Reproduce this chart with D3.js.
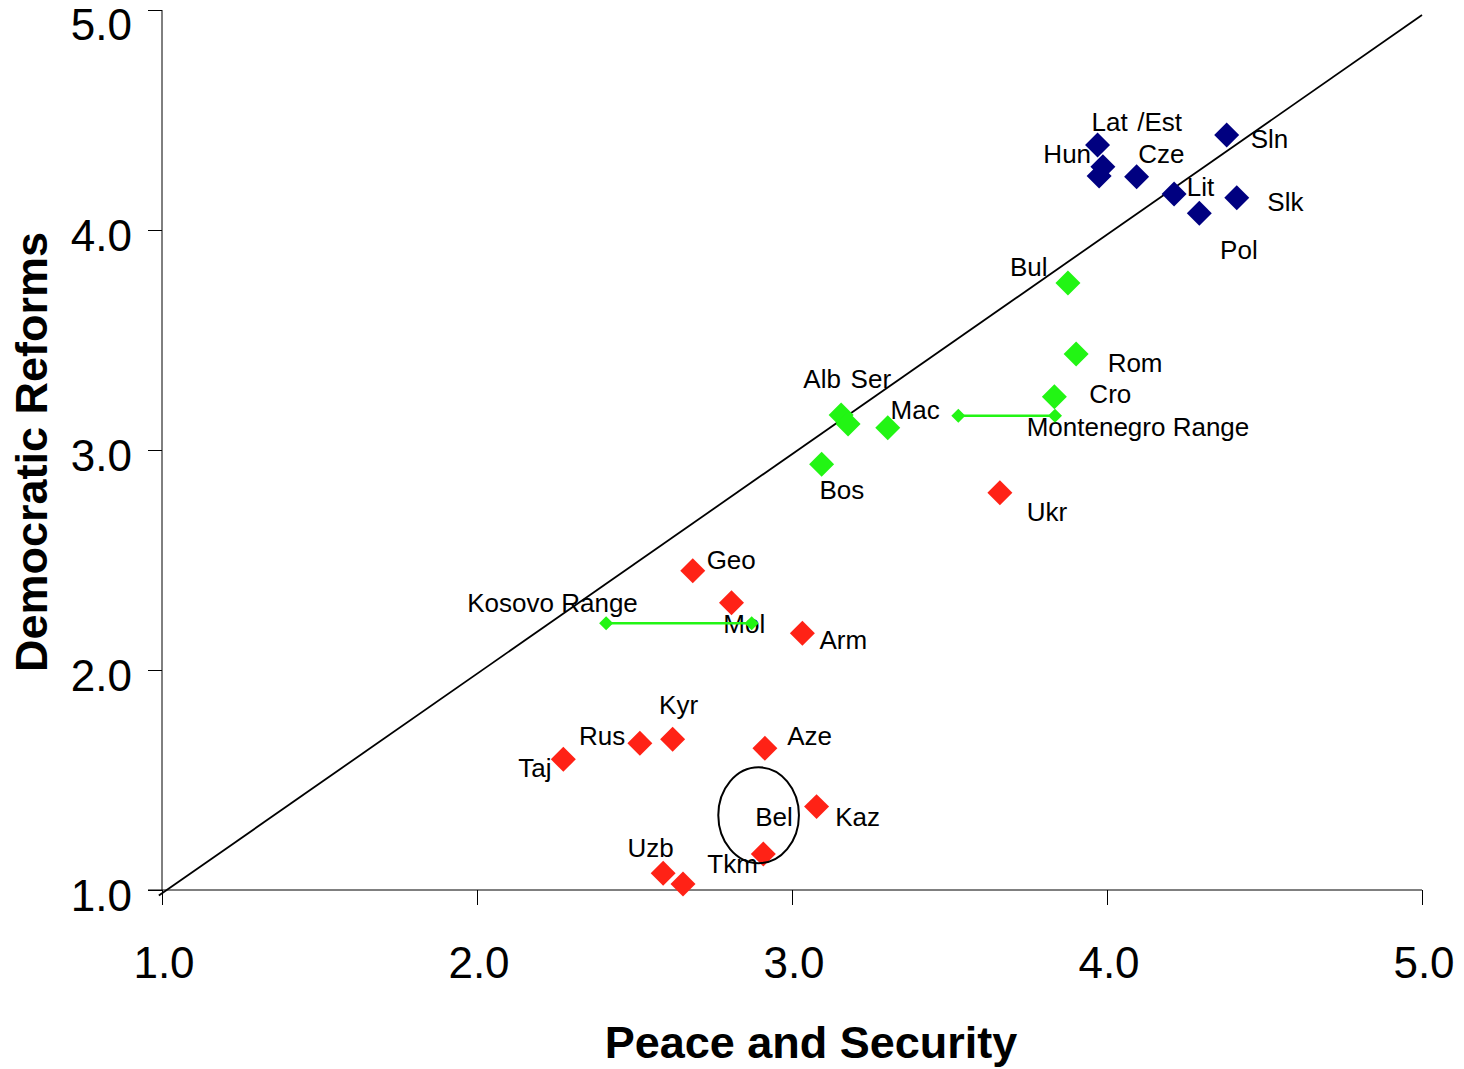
<!DOCTYPE html>
<html>
<head>
<meta charset="utf-8">
<script src="https://cdn.jsdelivr.net/npm/d3@7"></script>
<style>
  html, body { margin: 0; padding: 0; background: #fff; }
  svg { display: block; }
  text { font-family: "Liberation Sans", Arial, sans-serif; fill: #000; }
</style>
</head>
<body>
<svg id="chart" width="1464" height="1069"></svg>
<script>
// ---- data ----
const tickValues = [1, 2, 3, 4, 5];
const tickLabels = ["1.0", "2.0", "3.0", "4.0", "5.0"];

const blueNames = ["Lat", "Est", "Hun", "Cze", "Lit", "Pol", "Sln", "Slk"];
const blueX = [3.970, 3.987, 3.975, 4.094, 4.213, 4.293, 4.380, 4.412];
const blueY = [4.386, 4.288, 4.245, 4.242, 4.164, 4.076, 4.432, 4.147];

const greenNames = ["Bul", "Rom", "Cro", "Alb", "Ser", "Mac", "Bos"];
const greenX = [3.876, 3.902, 3.833, 3.156, 3.178, 3.304, 3.094];
const greenY = [3.759, 3.436, 3.242, 3.159, 3.118, 3.101, 2.935];

const redNames = ["Ukr", "Geo", "Mol", "Arm", "Taj", "Rus", "Kyr", "Aze", "Kaz", "Bel", "Uzb", "Tkm"];
const redX = [3.660, 2.685, 2.808, 3.033, 2.274, 2.517, 2.621, 2.914, 3.078, 2.909, 2.591, 2.654];
const redY = [2.806, 2.451, 2.306, 2.167, 1.594, 1.667, 1.685, 1.644, 1.379, 1.164, 1.076, 1.027];

const rangeNames = ["Montenegro Range", "Kosovo Range"];
const rangeLow = [3.528, 2.410];
const rangeHigh = [3.835, 2.872];
const rangeY = [3.156, 2.212];

// label anchors (data units)
const labelText = ["Lat", "/Est", "Hun", "Cze", "Sln", "Lit", "Slk", "Pol", "Bul", "Rom", "Cro",
  "Montenegro Range", "Mac", "Alb", "Ser", "Bos", "Ukr", "Geo", "Kosovo Range", "Mol", "Arm",
  "Kyr", "Rus", "Taj", "Aze", "Bel", "Kaz", "Uzb", "Tkm"];
const labelX = [3.951, 4.096, 3.798, 4.099, 4.456, 4.253, 4.509, 4.359, 3.692, 4.002, 3.944,
  3.745, 3.313, 3.036, 3.186, 3.087, 3.745, 2.729, 1.969, 2.782, 3.087,
  2.578, 2.324, 2.131, 2.985, 2.883, 3.137, 2.478, 2.731];
const labelY = [4.450, 4.450, 4.305, 4.305, 4.374, 4.156, 4.086, 3.868, 3.791, 3.356, 3.212,
  3.065, 3.140, 3.283, 3.283, 2.777, 2.679, 2.458, 2.265, 2.167, 2.094,
  1.800, 1.659, 1.515, 1.659, 1.292, 1.292, 1.151, 1.076];

// reference diagonal and highlight ellipse (data units)
const diagX = [0.99, 5.0];
const diagY = [0.975, 4.977];
const ellipseCenter = [2.894, 1.340];
const ellipseRadii = [0.128, 0.218];

// ---- layout ----
const svg = d3.select("#chart");
svg.append("rect").attr("width", 1464).attr("height", 1069).attr("fill", "#fff");

const x = d3.scaleLinear().domain([1, 5]).range([162, 1422]);
const y = d3.scaleLinear().domain([1, 5]).range([890, 10]);

const BLUE = "#000080", GREEN = "#22f514", RED = "#ff2216";
const bigDiamond = d3.symbol().type(d3.symbolSquare).size(312)();
const smallDiamond = d3.symbol().type(d3.symbolSquare).size(98)();

// axes
const xAxis = d3.axisBottom(x).tickValues(tickValues).tickSize(15).tickFormat(() => "");
const yAxis = d3.axisLeft(y).tickValues(tickValues).tickSize(14).tickFormat(() => "");
const gx = svg.append("g").attr("transform", "translate(0,890)").call(xAxis);
const gy = svg.append("g").attr("transform", "translate(162,0)").call(yAxis);
[gx, gy].forEach(g => {
  g.select(".domain").remove();
  g.selectAll("line").attr("stroke", "#000").attr("stroke-width", 1);
});
svg.append("line").attr("x1", x(1) - 14).attr("x2", x(5)).attr("y1", y(1)).attr("y2", y(1))
  .attr("stroke", "#000").attr("stroke-width", 1);
svg.append("line").attr("x1", x(1)).attr("x2", x(1)).attr("y1", y(5)).attr("y2", y(1))
  .attr("stroke", "#000").attr("stroke-width", 1);

// tick labels
svg.append("g").selectAll("text").data(tickValues).join("text")
  .attr("x", d => x(d) + 2).attr("y", 978)
  .attr("text-anchor", "middle").attr("font-size", 44)
  .text((d, i) => tickLabels[i]);
svg.append("g").selectAll("text").data(tickValues).join("text")
  .attr("x", 132).attr("y", d => Math.max(y(d) + 5, 24))
  .attr("dy", "0.36em")
  .attr("text-anchor", "end").attr("font-size", 44)
  .text((d, i) => tickLabels[i]);

// axis titles
svg.append("text").attr("x", 811).attr("y", 1058).attr("text-anchor", "middle")
  .attr("font-size", 45).attr("font-weight", "bold").text("Peace and Security");
svg.append("text").attr("transform", "translate(47,452) rotate(-90)").attr("text-anchor", "middle")
  .attr("font-size", 45).attr("font-weight", "bold").text("Democratic Reforms");

// diagonal
svg.append("line").attr("x1", x(diagX[0])).attr("y1", y(diagY[0]))
  .attr("x2", x(diagX[1])).attr("y2", y(diagY[1]))
  .attr("stroke", "#000").attr("stroke-width", 1.8);

function markers(xs, ys, color, path) {
  svg.append("g").selectAll("path").data(xs).join("path")
    .attr("d", path)
    .attr("transform", (d, i) => `translate(${x(d)},${y(ys[i])}) rotate(45)`)
    .attr("fill", color);
}

// labels
svg.append("g").selectAll("text").data(labelText).join("text")
  .attr("x", (d, i) => x(labelX[i])).attr("y", (d, i) => y(labelY[i]))
  .attr("font-size", 26).text(d => d);

markers(redX, redY, RED, bigDiamond);
markers(greenX, greenY, GREEN, bigDiamond);

// ranges
const rg = svg.append("g");
rangeNames.forEach((n, i) => {
  rg.append("line").attr("x1", x(rangeLow[i])).attr("x2", x(rangeHigh[i]))
    .attr("y1", y(rangeY[i])).attr("y2", y(rangeY[i]))
    .attr("stroke", GREEN).attr("stroke-width", 2.5);
});
markers(rangeLow, rangeY, GREEN, smallDiamond);
markers(rangeHigh, rangeY, GREEN, smallDiamond);

markers(blueX, blueY, BLUE, bigDiamond);

// ellipse
svg.append("ellipse")
  .attr("cx", x(ellipseCenter[0])).attr("cy", y(ellipseCenter[1]))
  .attr("rx", x(1 + ellipseRadii[0]) - x(1)).attr("ry", y(1) - y(1 + ellipseRadii[1]))
  .attr("fill", "none").attr("stroke", "#000").attr("stroke-width", 2);
</script>
</body>
</html>
